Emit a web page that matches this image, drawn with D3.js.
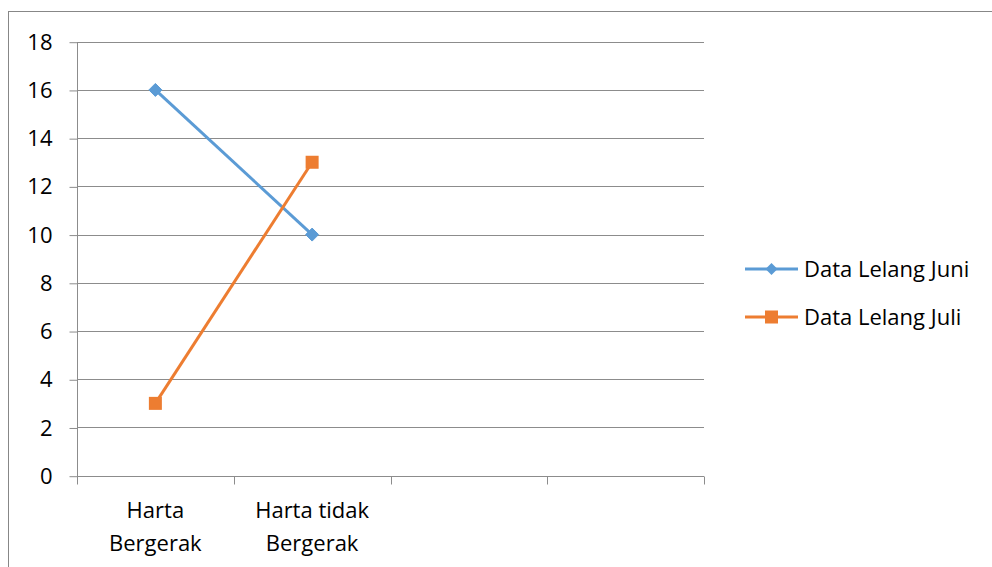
<!DOCTYPE html>
<html><head><meta charset="utf-8">
<script src="https://cdn.jsdelivr.net/npm/d3@7"></script>
<style>
body{margin:0;background:#fff;}
svg{display:block;font-family:"Open Sans","Noto Sans",sans-serif;}
</style></head>
<body><svg id="c" width="992" height="567"></svg>
<script>
const categories = ["Harta Bergerak", "Harta tidak Bergerak", "", ""];
const seriesNames = ["Data Lelang Juni", "Data Lelang Juli"];
const juni = [16, 10];
const juli = [3, 13];
const yTicks = [0, 2, 4, 6, 8, 10, 12, 14, 16, 18];
const colors = ["#5B9BD5", "#ED7D31"];

const FS = 22;
const svg = d3.select("#c");
// outer chart border
svg.append("rect").attr("x", 8.5).attr("y", 11.5).attr("width", 1000).attr("height", 600)
  .attr("fill", "none").attr("stroke", "#878787").attr("stroke-width", 1);

const L = 77, R = 704, T = 41.7, B = 475.7;
const x = d3.scaleBand().domain(categories.map((c, i) => i)).range([L, R]).padding(0);
const y = d3.scaleLinear().domain([0, 18]).range([B, T]);

// gridlines
svg.append("g").selectAll("line").data(yTicks.filter(d => d > 0)).join("line")
  .attr("x1", L).attr("x2", R).attr("y1", d => Math.round(y(d)) + 0.5).attr("y2", d => Math.round(y(d)) + 0.5)
  .attr("stroke", "#8c8c8c").attr("stroke-width", 1);

// y axis
const yAxis = svg.append("g").attr("transform", `translate(${L + 0.5},0.5)`)
  .call(d3.axisLeft(y).tickValues(yTicks).tickSize(8).tickPadding(17).tickFormat(d3.format("d")));
yAxis.selectAll("text").attr("font-size", FS).attr("fill", "#000").attr("font-family", "'Open Sans',sans-serif");
yAxis.selectAll("line,path").attr("stroke", "#8c8c8c");
yAxis.select("path").attr("d", `M0,${y(18)}V${B}`);

// x axis
const xa = svg.append("g").attr("transform", `translate(0,${Math.round(B) + 0.5})`);
xa.append("line").attr("x1", L).attr("x2", R).attr("stroke", "#8c8c8c");
const tickPos = categories.map((c, i) => x(i)).concat([x(categories.length - 1) + x.bandwidth()]);
xa.selectAll("line.t").data(tickPos).join("line").attr("class", "t")
  .attr("x1", d => Math.round(d) + 0.5).attr("x2", d => Math.round(d) + 0.5).attr("y1", 0).attr("y2", 8)
  .attr("stroke", "#8c8c8c");

// category labels (wrapped)
const wraps = {"Harta Bergerak": ["Harta", "Bergerak"], "Harta tidak Bergerak": ["Harta tidak", "Bergerak"]};
categories.forEach((c, i) => {
  if (!c) return;
  const lines = wraps[c] || [c];
  const t = svg.append("text").attr("text-anchor", "middle").attr("font-size", FS).attr("fill", "#000");
  lines.forEach((ln, j) => t.append("tspan").attr("x", x(i) + x.bandwidth() / 2).attr("y", 518 + j * 33).text(ln));
});

const cx = i => x(i) + x.bandwidth() / 2;
const data = [juni, juli];
const line = d3.line().x((d, i) => cx(i)).y(d => y(d));
data.forEach((s, k) => {
  svg.append("path").attr("d", line(s)).attr("fill", "none").attr("stroke", colors[k]).attr("stroke-width", 3).attr("stroke-linejoin", "round");
});
// markers
const diamond = (px, py, r) => `M${px},${py - r}L${px + r},${py}L${px},${py + r}L${px - r},${py}Z`;
svg.append("g").selectAll("path").data(juni).join("path")
  .attr("d", (d, i) => diamond(cx(i), y(d), 6.5)).attr("fill", colors[0]).attr("stroke", colors[0]);
svg.append("g").selectAll("rect").data(juli).join("rect")
  .attr("x", (d, i) => cx(i) - 6.5).attr("y", d => y(d) - 6.5).attr("width", 13).attr("height", 13).attr("fill", colors[1]);

// legend
const lg = svg.append("g");
seriesNames.forEach((n, k) => {
  const ly = 269 + k * 48;
  lg.append("line").attr("x1", 745).attr("x2", 798).attr("y1", ly).attr("y2", ly).attr("stroke", colors[k]).attr("stroke-width", 3);
  if (k === 0) lg.append("path").attr("d", diamond(771.5, ly, 6)).attr("fill", colors[0]);
  else lg.append("rect").attr("x", 765).attr("y", ly - 6.5).attr("width", 13).attr("height", 13).attr("fill", colors[1]);
  lg.append("text").attr("x", 804).attr("y", ly + 8).attr("font-size", FS).attr("fill", "#000").text(n);
});
</script></body></html>
